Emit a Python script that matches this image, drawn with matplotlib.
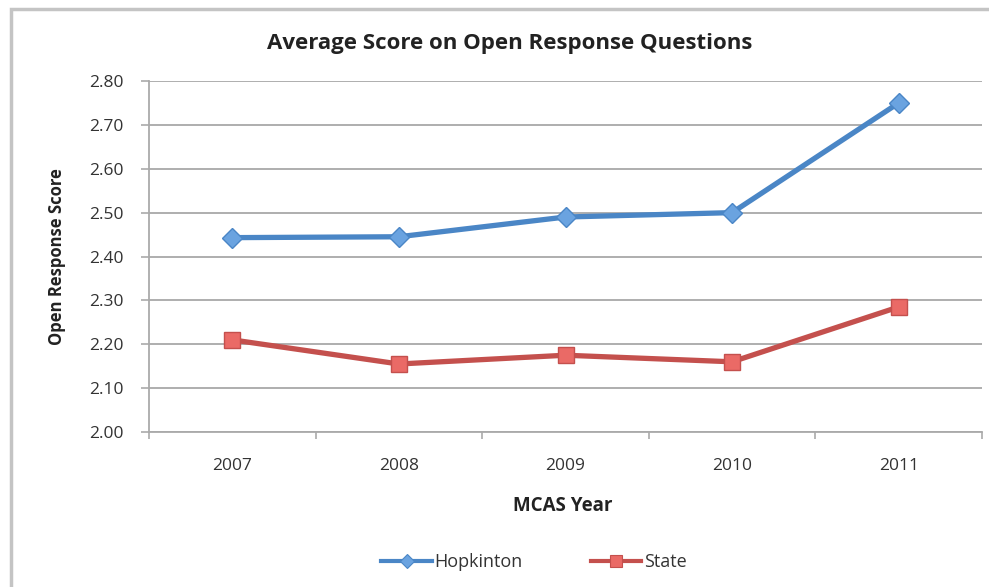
import matplotlib
matplotlib.use("Agg")
import matplotlib.pyplot as plt
from matplotlib.patches import Rectangle
from matplotlib.lines import Line2D

years = ["2007", "2008", "2009", "2010", "2011"]
hopkinton = [2.443, 2.445, 2.49, 2.50, 2.75]
state = [2.21, 2.155, 2.175, 2.16, 2.285]
yticks = [2.00, 2.10, 2.20, 2.30, 2.40, 2.50, 2.60, 2.70, 2.80]

plt.rcParams['font.family'] = ['Open Sans', 'DejaVu Sans']

W, H = 989, 587
fig = plt.figure(figsize=(W/100, H/100), dpi=100)
fig.patch.set_facecolor('white')

# outer chart frame
fig.patches.append(Rectangle((11/W, -0.1), 1.2, 1 - 9/H + 0.1, transform=fig.transFigure,
                             fill=False, edgecolor='#c4c4c4', linewidth=2.5))

ax = fig.add_axes([149/W, 1 - 432/H, (982-149)/W, (432-81)/H])
x = list(range(len(years)))

blue, blue_f = '#4a86c6', '#6aa3e0'
red, red_f = '#c4504d', '#ea6a66'

ax.plot(x, hopkinton, color=blue, linewidth=3.8, marker='D', markersize=10,
        markerfacecolor=blue_f, markeredgecolor=blue, markeredgewidth=1, zorder=3)
ax.plot(x, state, color=red, linewidth=3.8, marker='s', markersize=11,
        markerfacecolor=red_f, markeredgecolor=red, markeredgewidth=1, zorder=3)

ax.set_xlim(-0.5, 4.5)
ax.set_ylim(2.0, 2.8)
ax.set_yticks(yticks)
ax.set_yticklabels([f"{v:.2f}" for v in yticks])
ax.set_xticks(x)
ax.set_xticklabels(years)
ax.set_xticks([i - 0.5 for i in range(len(years) + 1)], minor=True)
ax.tick_params(axis='x', which='major', length=0, pad=19, labelsize=12.5, colors='#333333')
ax.tick_params(axis='x', which='minor', length=5, color='#aaaaaa', width=1.2, direction='out')
ax.tick_params(axis='y', length=6, color='#aaaaaa', width=1.2, pad=12, labelsize=12.5, labelcolor='#333333')

ax.grid(axis='y', color='#a8a8a8', linewidth=1.3)
ax.set_axisbelow(True)
for s in ['top', 'right']:
    ax.spines[s].set_visible(False)
for s in ['left', 'bottom']:
    ax.spines[s].set_color('#aaaaaa')
    ax.spines[s].set_linewidth(1.3)

fig.text(510/W, 1 - 44/H, "Average Score on Open Response Questions", fontsize=16,
         fontweight='bold', color='#222222', ha='center', va='center')
fig.text(563/W, 1 - 506/H, "MCAS Year", fontsize=13.5, fontweight='bold',
         color='#222222', ha='center', va='center')
fig.text(57/W, 1 - 257/H, "Open Response Score", fontsize=12, fontweight='bold',
         color='#222222', ha='center', va='center', rotation=90)

handles = [
    Line2D([], [], color=blue, linewidth=3, marker='D', markersize=7,
           markerfacecolor=blue_f, markeredgecolor=blue, markeredgewidth=0.8),
    Line2D([], [], color=red, linewidth=3, marker='s', markersize=8,
           markerfacecolor=red_f, markeredgecolor=red, markeredgewidth=0.8),
]
fig.legend(handles, ['Hopkinton', 'State'], loc='center', bbox_to_anchor=(534/W, 1 - 562/H),
           ncol=2, frameon=False, fontsize=13, handlelength=2.8, handletextpad=0.15,
           columnspacing=3.75, labelcolor='#333333')

fig.savefig("out.png", dpi=100, facecolor='white')
